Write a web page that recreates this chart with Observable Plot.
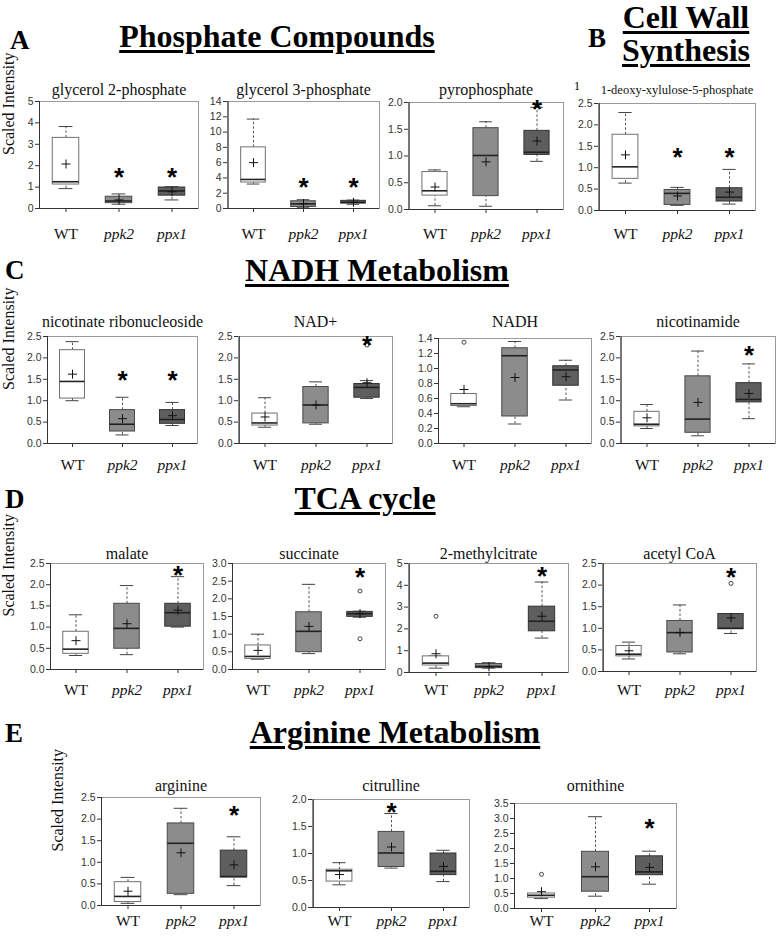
<!DOCTYPE html>
<html><head><meta charset="utf-8">
<script src="https://cdn.jsdelivr.net/npm/d3@7"></script>
<script src="https://cdn.jsdelivr.net/npm/@observablehq/plot@0.6"></script>
<style>
body{margin:0;background:#fff;}
#fig{position:relative;width:777px;height:937px;overflow:hidden;color:#000;}
.abs{position:absolute;white-space:nowrap;line-height:1;}
.head{font-weight:bold;text-decoration:underline;text-decoration-thickness:3px;text-underline-offset:3px;transform:translateX(-50%);}
.letter{font-weight:bold;}
svg{position:absolute;overflow:visible;}
</style>
</head><body>
<div id="fig"></div>
<script>
const groups = ["WT", "ppk2", "ppx1"];
// each metabolite: per group [min, q1, median, q3, max, mean]
const glycerol2P   = [[0.93,1.12,1.25,3.30,3.83,2.08],[0.20,0.25,0.35,0.55,0.68,0.40],[0.40,0.60,0.82,0.98,1.02,0.78]];
const glycerol3P   = [[3.2,3.4,3.8,8.0,11.7,6.0],[0.1,0.2,0.6,0.95,1.15,0.65],[0.55,0.65,0.8,1.0,1.1,0.8]];
const pyrophosphate= [[0.07,0.26,0.35,0.70,0.74,0.42],[0.06,0.25,1.01,1.52,1.64,0.89],[0.90,1.02,1.07,1.47,1.91,1.28]];
const deoxyXylulose= [[0.64,0.74,1.02,1.77,2.29,1.30],[0.12,0.13,0.40,0.48,0.54,0.34],[0.15,0.21,0.31,0.52,0.96,0.43]];
const nicRibo      = [[1.00,1.05,1.45,2.18,2.38,1.62],[0.20,0.28,0.45,0.78,1.08,0.58],[0.42,0.46,0.56,0.78,0.96,0.65]];
const nadPlus      = [[0.38,0.42,0.48,0.70,1.07,0.62],[0.45,0.47,0.90,1.32,1.44,0.90],[1.05,1.07,1.31,1.39,1.47,1.42]];
const nadh         = [[0.49,0.50,0.53,0.66,0.66,0.72],[0.26,0.36,1.17,1.27,1.36,0.88],[0.58,0.77,0.98,1.03,1.11,0.89]];
const nicotinamide = [[0.35,0.40,0.45,0.74,0.91,0.60],[0.18,0.25,0.57,1.57,2.16,0.96],[0.58,0.96,1.03,1.41,1.86,1.17]];
const malate       = [[0.33,0.37,0.48,0.89,1.29,0.68],[0.35,0.49,0.97,1.55,1.98,1.08],[1.00,1.01,1.34,1.55,2.19,1.40]];
const succinate    = [[0.29,0.30,0.37,0.68,1.00,0.54],[0.45,0.49,1.08,1.62,2.41,1.22],[1.48,1.49,1.58,1.63,1.65,1.58]];
const methylcitrate= [[0.20,0.32,0.43,0.74,0.76,0.86],[0.20,0.20,0.28,0.39,0.45,0.26],[1.58,1.89,2.35,3.02,4.15,2.58]];
const acetylCoA    = [[0.29,0.35,0.40,0.59,0.68,0.48],[0.41,0.44,0.90,1.17,1.54,0.90],[0.88,0.98,1.00,1.33,1.33,1.24]];
const arginine     = [[0.05,0.08,0.21,0.54,0.65,0.33],[0.25,0.27,1.44,1.90,2.25,1.22],[0.46,0.65,0.67,1.27,1.59,0.94]];
const citrulline   = [[0.42,0.48,0.68,0.70,0.83,0.61],[0.73,0.75,1.01,1.40,1.74,1.12],[0.48,0.60,0.67,1.00,1.06,0.76]];
const ornithine    = [[0.33,0.36,0.44,0.50,0.50,0.56],[0.41,0.56,1.06,1.89,3.06,1.39],[0.81,1.11,1.22,1.74,1.91,1.37]];
// outliers [group, value]
const nadPlusOut = [["ppx1",2.30]];
const nadhOut = [["WT",1.35]];
const succinateOut = [["ppx1",2.22],["ppx1",0.87]];
const methylcitrateOut = [["WT",2.58]];
const acetylCoAOut = [["ppx1",2.04]];
const ornithineOut = [["WT",1.14]];
// significance stars [group, value]
const glycerol2PStar = [["ppk2",1.75],["ppx1",1.75]];
const glycerol3PStar = [["ppk2",3.7],["ppx1",3.7]];
const pyrophosphateStar = [["ppx1",2.0]];
const deoxyXyluloseStar = [["ppk2",1.4],["ppx1",1.4]];
const nicRiboStar = [["ppk2",1.63],["ppx1",1.63]];
const nadPlusStar = [["ppx1",2.45]];
const nicotinamideStar = [["ppx1",2.21]];
const malateStar = [["ppx1",2.37]];
const succinateStar = [["ppx1",2.79]];
const methylcitrateStar = [["ppx1",4.73]];
const acetylCoAStar = [["ppx1",2.34]];
const arginineStar = [["ppx1",2.23]];
const citrullineStar = [["ppk2",1.88]];
const ornithineStar = [["ppx1",2.89]];
// tick values
const ticks0to5 = [0,1,2,3,4,5];
const ticks0to14 = [0,2,4,6,8,10,12,14];
const ticks0to2 = [0,0.5,1,1.5,2];
const ticks0to25 = [0,0.5,1,1.5,2,2.5];
const ticks0to3 = [0,0.5,1,1.5,2,2.5,3];
const ticks0to35 = [0,0.5,1,1.5,2,2.5,3,3.5];
const ticks0to14b = [0,0.2,0.4,0.6,0.8,1.0,1.2,1.4];

const fills = ["#ffffff", "#8c8c8c", "#5e5e5e"];
const strokes = ["#707070", "#4a4a4a", "#333333"];

// ---- font detection ----
const ctx = document.createElement("canvas").getContext("2d");
function hasFont(name) {
  const s = "Phosphate Compounds glycerol WMmil 0123";
  for (const fb of ["monospace", "sans-serif", "serif"]) {
    ctx.font = `32px ${fb}`; const w0 = ctx.measureText(s).width;
    ctx.font = `32px "${name}", ${fb}`; const w1 = ctx.measureText(s).width;
    if (Math.abs(w0 - w1) > 0.01) return true;
  }
  return false;
}
const serifName = ["Liberation Serif", "Tinos", "Times New Roman", "Nimbus Roman", "Noto Serif", "DejaVu Serif"].find(hasFont) || "serif";
const sansName = ["Liberation Sans", "Arimo", "Arial", "Helvetica", "Roboto", "DejaVu Sans"].find(hasFont) || "sans-serif";
const serif = `"${serifName}", serif`;
const sans = `"${sansName}", sans-serif`;
ctx.font = `bold 32px ${serif}`;
const serifScale = Math.min(1.05, (9.863 * 32) / ctx.measureText("Phosphate Compounds").width);
const fs = v => v * serifScale;

const fig = document.getElementById("fig");
fig.style.fontFamily = serif;
function addText(txt, cls, left, baseline, size, extra) {
  const d = document.createElement("div");
  d.className = "abs " + cls;
  d.textContent = txt;
  d.style.fontSize = size + "px";
  d.style.left = left + "px"; d.style.top = (baseline - 0.8375 * size) + "px";
  if (extra) Object.assign(d.style, extra);
  fig.appendChild(d);
}
const H = fs(32), L = fs(27);
addText("A", "letter", 10, 50, L);
addText("Phosphate Compounds", "head", 277, 47, H);
addText("B", "letter", 588, 48, L);
addText("Cell Wall", "head", 686, 28, H);
addText("Synthesis", "head", 686, 61, H);
addText("1", "", 574, 90, fs(12));
addText("C", "letter", 5, 280, L);
addText("NADH Metabolism", "head", 377, 281, H);
addText("D", "letter", 5, 509, L);
addText("TCA cycle", "head", 365, 509, H);
addText("E", "letter", 5, 743, L);
addText("Arginine Metabolism", "head", 395, 743, H);

const int = d3.format("d"), one = d3.format(".1f");
const panels = [
  {title:"glycerol 2-phosphate", stats:glycerol2P, stars:glycerol2PStar, out:[], domain:[0,5], ticks:ticks0to5, fmt:int, frame:[39,198,101,208], titleY:83, labelY:238, ylabelX:8},
  {title:"glycerol 3-phosphate", stats:glycerol3P, stars:glycerol3PStar, out:[], domain:[0,14], ticks:ticks0to14, fmt:int, frame:[227,379,101,208], titleY:83, labelY:238},
  {title:"pyrophosphate", stats:pyrophosphate, stars:pyrophosphateStar, out:[], domain:[0,2], ticks:ticks0to2, fmt:one, frame:[408,563,102,209], titleY:83, labelY:238},
  {title:"1-deoxy-xylulose-5-phosphate", stats:deoxyXylulose, stars:deoxyXyluloseStar, out:[], domain:[0,2.5], ticks:ticks0to25, fmt:one, frame:[598,755,103,210], titleY:85, labelY:238, titleSize:12.5},
  {title:"nicotinate ribonucleoside", stats:nicRibo, stars:nicRiboStar, out:[], domain:[0,2.5], ticks:ticks0to25, fmt:one, frame:[47,197,336,443], titleY:315, labelY:469, ylabelX:8},
  {title:"NAD+", stats:nadPlus, stars:nadPlusStar, out:nadPlusOut, domain:[0,2.5], ticks:ticks0to25, fmt:one, frame:[238,392,336,443], titleY:315, labelY:469},
  {title:"NADH", stats:nadh, stars:[], out:nadhOut, domain:[0,1.4], ticks:ticks0to14b, fmt:one, frame:[438,591,338,443], titleY:315, labelY:469},
  {title:"nicotinamide", stats:nicotinamide, stars:nicotinamideStar, out:[], domain:[0,2.5], ticks:ticks0to25, fmt:one, frame:[620,775,336,443], titleY:315, labelY:469},
  {title:"malate", stats:malate, stars:malateStar, out:[], domain:[0,2.5], ticks:ticks0to25, fmt:one, frame:[50,203,563,669], titleY:547, labelY:694, ylabelX:8},
  {title:"succinate", stats:succinate, stars:succinateStar, out:succinateOut, domain:[0,3], ticks:ticks0to3, fmt:one, frame:[232,385,563,669], titleY:547, labelY:694},
  {title:"2-methylcitrate", stats:methylcitrate, stars:methylcitrateStar, out:methylcitrateOut, domain:[0,5], ticks:ticks0to5, fmt:int, frame:[408,568,563,672], titleY:547, labelY:694},
  {title:"acetyl CoA", stats:acetylCoA, stars:acetylCoAStar, out:acetylCoAOut, domain:[0,2.5], ticks:ticks0to25, fmt:one, frame:[602,756,563,671], titleY:547, labelY:694},
  {title:"arginine", stats:arginine, stars:arginineStar, out:[], domain:[0,2.5], ticks:ticks0to25, fmt:one, frame:[101,260,797,905], titleY:779, labelY:925, ylabelX:57},
  {title:"citrulline", stats:citrulline, stars:citrullineStar, out:[], domain:[0,2], ticks:ticks0to2, fmt:one, frame:[312,469,799,907], titleY:779, labelY:925},
  {title:"ornithine", stats:ornithine, stars:ornithineStar, out:ornithineOut, domain:[0,3.5], ticks:ticks0to35, fmt:one, frame:[514,676,803,908], titleY:779, labelY:925}
];

function boxPlot(p) {
  const [fl, fr, ft, fb] = p.frame;
  const mL = p.ylabelX != null ? fl - p.ylabelX + 14 : 32;
  const mR = 10, mT = 40, mB = 40;
  const band = (fr - fl) / 3;
  const rows = groups.map((g, i) => ({g, min:p.stats[i][0], q1:p.stats[i][1], med:p.stats[i][2], q3:p.stats[i][3], max:p.stats[i][4], mean:p.stats[i][5], fill:fills[i], stroke:strokes[i]}));
  const outs = p.out.map(([g, v]) => ({g, v}));
  const stars = p.stars.map(([g, v]) => ({g, v}));
  const marks = [
    Plot.frame({stroke: "#9a9a9a"}),
    Plot.ruleX(rows, {x: "g", y1: "q3", y2: "max", stroke: "#555", strokeDasharray: "2.5,2"}),
    Plot.ruleX(rows, {x: "g", y1: "min", y2: "q1", stroke: "#555", strokeDasharray: "2.5,2"}),
    Plot.tickY(rows, {x: "g", y: "max", stroke: "#444", insetLeft: band * 0.37, insetRight: band * 0.37}),
    Plot.tickY(rows, {x: "g", y: "min", stroke: "#444", insetLeft: band * 0.37, insetRight: band * 0.37}),
    Plot.barY(rows, {x: "g", y1: "q1", y2: "q3", fill: "fill", stroke: "stroke", strokeWidth: 1, insetLeft: band * 0.25, insetRight: band * 0.25}),
    Plot.tickY(rows, {x: "g", y: "med", stroke: "#222", strokeWidth: 1.6, insetLeft: band * 0.25, insetRight: band * 0.25}),
    Plot.dot(rows, {x: "g", y: "mean", symbol: "plus", r: 3, stroke: "#111", strokeWidth: 1}),
    Plot.dot(outs, {x: "g", y: "v", r: 2, stroke: "#444", fill: "none", strokeWidth: 1}),
    Plot.text(stars, {x: "g", y: "v", text: () => "*", fontSize: 26, fontWeight: "bold", fontFamily: sans, fill: "#000", dy: 7}),
    Plot.ruleY([p.domain[0]], {stroke: "#333"}),
    Plot.ruleX([groups[0]], {x: d => d, dx: -band / 2, stroke: "#333"}),
    Plot.axisY(p.ticks, {tickSize: 4, tickPadding: 2, tickFormat: p.fmt, fontSize: 10.5, fontFamily: sans, color: "#333", label: null}),
    Plot.axisX({tickSize: 4, tickFormat: () => "", color: "#333", label: null}),
    Plot.text(["WT"], {x: d => d, frameAnchor: "bottom", dy: p.labelY - fb, fontSize: fs(15.5), fontFamily: serif, fill: "#111"}),
    Plot.text(["ppk2", "ppx1"], {x: d => d, frameAnchor: "bottom", dy: p.labelY - fb, fontSize: fs(15.5), fontFamily: serif, fontStyle: "italic", fill: "#111"}),
    Plot.text([p.title], {frameAnchor: "top", dy: -(ft - p.titleY), fontSize: fs(p.titleSize || 16), fontFamily: serif, fill: "#111"})
  ];
  if (p.ylabelX != null) {
    marks.push(Plot.text(["Scaled Intensity"], {frameAnchor: "left", dx: -(fl - p.ylabelX), rotate: -90, fontSize: fs(16), fontFamily: serif, fill: "#111"}));
  }
  const svg = Plot.plot({
    width: mL + (fr - fl) + mR,
    height: mT + (fb - ft) + mB,
    marginLeft: mL, marginRight: mR, marginTop: mT, marginBottom: mB,
    x: {type: "band", domain: groups, padding: 0, axis: null},
    y: {domain: p.domain, axis: null},
    color: {type: "identity"},
    style: {background: "transparent", overflow: "visible"},
    marks
  });
  svg.style.position = "absolute";
  svg.style.left = (fl - mL) + "px";
  svg.style.top = (ft - mT) + "px";
  fig.appendChild(svg);
}
panels.forEach(boxPlot);
</script>
</body></html>
